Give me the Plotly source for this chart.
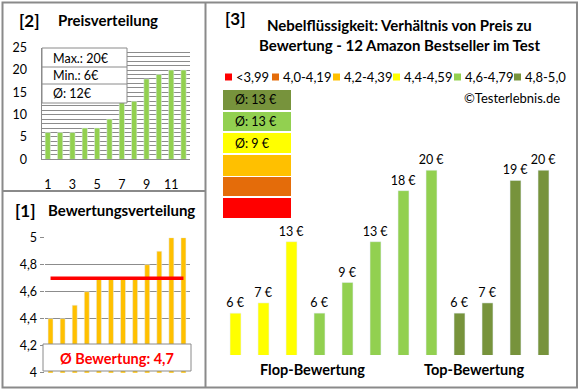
import plotly.graph_objects as go

W, H = 580, 390
def px(x): return x / W
def py(y): return 1 - y / H

FONT = "Lato"
GRID = "#8C8C8C"
BORDER = "#8A8A8A"

# ---------------- data ----------------
price_idx = list(range(1, 13))
prices_sorted = [6, 6, 6, 7, 7, 9, 13, 13, 18, 19, 20, 20]
ratings_sorted = [4.4, 4.4, 4.5, 4.6, 4.7, 4.7, 4.7, 4.7, 4.8, 4.9, 5.0, 5.0]
avg_rating = 4.7
price_xticks = [1, 3, 5, 7, 9, 11]
price_yticks = [0, 5, 10, 15, 20, 25]
rating_yticks = [4, 4.2, 4.4, 4.6, 4.8, 5]
rating_yticklabels = ["4", "4,2", "4,4", "4,6", "4,8", "5"]

bar_prices = [6, 7, 13, 6, 9, 13, 18, 20, 6, 7, 19, 20]
bar_groups = ["4,4-4,59"] * 3 + ["4,6-4,79"] * 5 + ["4,8-5,0"] * 4
legend_labels = ["<3,99", "4,0-4,19", "4,2-4,39", "4,4-4,59", "4,6-4,79", "4,8-5,0"]
legend_colors = ["#FF0000", "#E46C0A", "#FFC000", "#FFFF00", "#92D050", "#77933C"]
group_names = ["Flop-Bewertung", "Top-Bewertung"]

color_of = dict(zip(legend_labels, legend_colors))
bar_colors = [color_of[g] for g in bar_groups]

pmax, pmin = max(prices_sorted), min(prices_sorted)
pavg = round(sum(prices_sorted) / len(prices_sorted))

fig = go.Figure()

# ---------------- panel [2] Preisverteilung ----------------
fig.add_trace(go.Bar(x=price_idx, y=prices_sorted, marker_color="#92D050",
                     width=0.43, xaxis="x", yaxis="y", showlegend=False))

# ---------------- panel [1] Bewertungsverteilung ----------------
fig.add_trace(go.Bar(x=price_idx, y=ratings_sorted, marker_color="#FFC000",
                     width=0.41, xaxis="x2", yaxis="y2", showlegend=False))
fig.add_trace(go.Scatter(x=price_idx, y=[avg_rating] * len(price_idx), mode="lines",
                         line=dict(color="#FF0000", width=3.5),
                         xaxis="x2", yaxis="y2", showlegend=False))

# ---------------- panel [3] Preis vs Bewertung ----------------
fig.add_trace(go.Bar(x=price_idx, y=bar_prices, marker_color=bar_colors,
                     width=0.39, xaxis="x3", yaxis="y3", showlegend=False,
                     texttemplate="%{y} €", textposition="outside",
                     constraintext="none", cliponaxis=False,
                     textfont=dict(family=FONT, size=12.5, color="#000000")))

axis_common = dict(zeroline=False, fixedrange=True)
fig.update_layout(
    width=W, height=H,
    margin=dict(l=0, r=0, t=0, b=0, autoexpand=False),
    paper_bgcolor="white", plot_bgcolor="white",
    font=dict(family=FONT, size=12, color="#000000"),
    bargap=0,
    xaxis=dict(domain=[px(41.6), px(189.7)], range=[0.5, 12.5], anchor="y",
               tickvals=price_xticks, showgrid=False, showline=True,
               linecolor=GRID, linewidth=1, ticks="", ticklabelstandoff=14,
               tickfont=dict(size=12.5), **axis_common),
    yaxis=dict(domain=[py(159.3), py(47.7)], range=[0, 25], anchor="x",
               tickvals=price_yticks, showgrid=True, gridcolor=GRID, gridwidth=1,
               minor=dict(dtick=1, showgrid=True, gridcolor=GRID, gridwidth=1),
               showline=True, linecolor=GRID, linewidth=1, ticks="",
               ticklabelstandoff=11, tickfont=dict(size=12.5), **axis_common),
    xaxis2=dict(domain=[px(44.5), px(189.5)], range=[0.5, 12.5], anchor="y2",
                showticklabels=False, showgrid=False, showline=False, ticks="",
                **axis_common),
    yaxis2=dict(domain=[py(372.7), py(237.7)], range=[4, 5], anchor="x2",
                tickvals=rating_yticks, ticktext=rating_yticklabels,
                showgrid=True, gridcolor=GRID, gridwidth=1, showline=False,
                ticks="outside", ticklen=4, tickcolor=GRID,
                tickfont=dict(size=12.5), **axis_common),
    xaxis3=dict(domain=[px(221.5), px(557.5)], range=[0.5, 12.5], anchor="y3",
                visible=False, **axis_common),
    yaxis3=dict(domain=[py(355), py(149.8)], range=[1.9, 22], anchor="x3",
                visible=False, **axis_common),
)

shapes = []
annotations = []

def rect(x0, y0, x1, y1, fill="white", line=BORDER, lw=1):
    shapes.append(dict(type="rect", xref="paper", yref="paper",
                       x0=px(x0), x1=px(x1), y0=py(y1), y1=py(y0),
                       fillcolor=fill, line=dict(color=line, width=lw), layer="above"))

def hline(x0, x1, y, color=BORDER, lw=1):
    shapes.append(dict(type="line", xref="paper", yref="paper",
                       x0=px(x0), x1=px(x1), y0=py(y), y1=py(y),
                       line=dict(color=color, width=lw), layer="above"))

def vline(x, y0, y1, color=BORDER, lw=1):
    shapes.append(dict(type="line", xref="paper", yref="paper",
                       x0=px(x), x1=px(x), y0=py(y0), y1=py(y1),
                       line=dict(color=color, width=lw), layer="above"))

def text(x, y, s, size=12, bold=False, color="#000000", xanchor="left"):
    annotations.append(dict(xref="paper", yref="paper", x=px(x), y=py(y),
                            text=("<b>%s</b>" % s) if bold else s, showarrow=False,
                            xanchor=xanchor, yanchor="middle",
                            font=dict(family=FONT, size=size, color=color)))

# outer frame and dividers
shapes.append(dict(type="rect", xref="paper", yref="paper",
                   x0=px(2.5), x1=px(577), y0=py(387.5), y1=py(2.5),
                   line=dict(color=BORDER, width=2), layer="above"))
vline(205.5, 2.5, 387.5, lw=2)
hline(2.5, 205.5, 191, lw=2)

# panel [2] titles & info box
text(17, 20, "[2]", size=17, bold=True)
text(108, 20, "Preisverteilung", size=15, bold=True, xanchor="center")
rect(42, 48, 127, 103, fill="white", line=BORDER)
hline(42, 127, 67)
hline(42, 127, 84)
text(51, 58, "Max.: %d€" % pmax, size=12.5)
text(51, 76, "Min.: %d€" % pmin, size=12.5)
text(51, 93, "Ø: %d€" % pavg, size=12.5)

# panel [1] titles & average box
text(13, 210, "[1]", size=17, bold=True)
text(121, 210, "Bewertungsverteilung", size=15, bold=True, xanchor="center")
rect(43, 344, 191, 371, fill="white", line=BORDER)
text(117, 358, "Ø Bewertung: %s" % str(avg_rating).replace(".", ","),
     size=14.5, bold=True, color="#FF0000", xanchor="center")

# panel [3] titles
text(223, 18, "[3]", size=17, bold=True)
text(399, 25, "Nebelflüssigkeit: Verhältnis von Preis zu", size=15, bold=True, xanchor="center")
text(399, 45, "Bewertung - 12 Amazon Bestseller im Test", size=15, bold=True, xanchor="center")

# color legend row
sq_x = [225, 272, 333, 393, 454, 514]
for xs, lab, col in zip(sq_x, legend_labels, legend_colors):
    shapes.append(dict(type="rect", xref="paper", yref="paper",
                       x0=px(xs), x1=px(xs + 7), y0=py(80.5), y1=py(73.5),
                       fillcolor=col, line=dict(width=0), layer="above"))
    text(xs + 9, 77, lab, size=13)
text(562, 98, "©Testerlebnis.de", size=13, xanchor="right")

# stacked colour boxes with group averages
box_y = [(90, 110), (112, 131), (133, 153), (155, 176), (177, 196), (198, 218)]
for (y0, y1), lab, col in zip(box_y, legend_labels[::-1], legend_colors[::-1]):
    shapes.append(dict(type="rect", xref="paper", yref="paper",
                       x0=px(223), x1=px(291), y0=py(y1), y1=py(y0),
                       fillcolor=col, line=dict(width=0), layer="above"))
    vals = [p for p, g in zip(bar_prices, bar_groups) if g == lab]
    if vals:
        text(233, (y0 + y1) / 2, "Ø: %d €" % round(sum(vals) / len(vals)), size=12.5)

# group labels
text(312, 369, group_names[0], size=14.5, bold=True, xanchor="center")
text(474, 369, group_names[1], size=14.5, bold=True, xanchor="center")

fig.update_layout(shapes=shapes, annotations=annotations)
fig.write_html("out.html",
               config={"displayModeBar": False, "staticPlot": True},
               post_script="document.body.style.margin='0';document.body.style.overflow='hidden';")
